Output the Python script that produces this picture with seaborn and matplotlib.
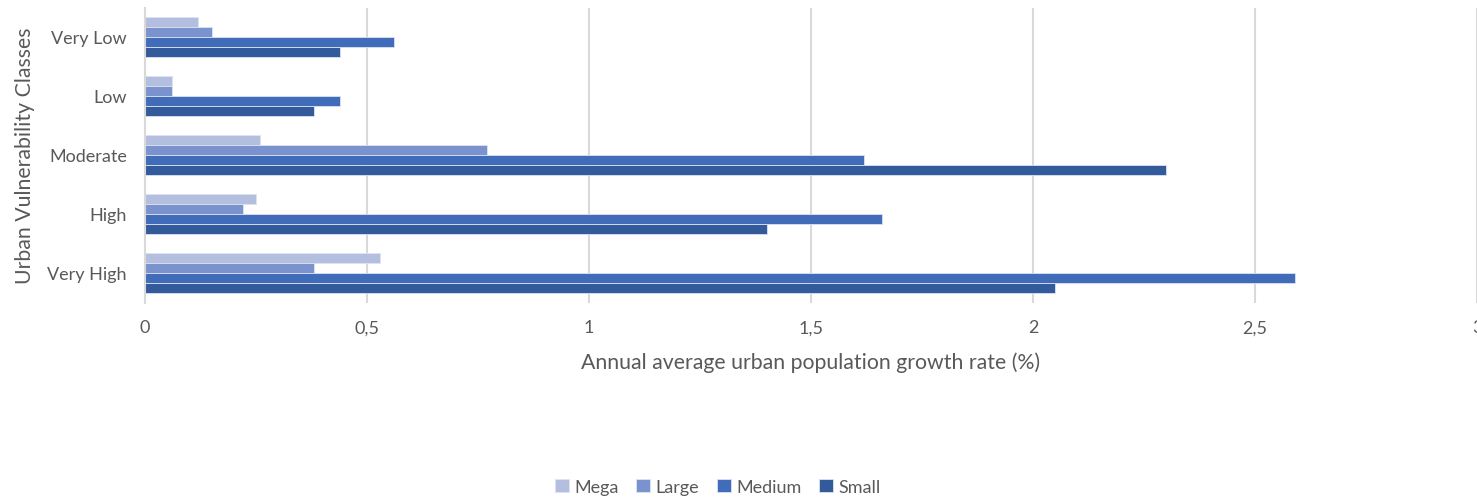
import matplotlib
matplotlib.use("Agg")
import matplotlib.pyplot as plt
from matplotlib.ticker import FuncFormatter, MultipleLocator
import seaborn as sns
import pandas as pd

categories = ["Very Low", "Low", "Moderate", "High", "Very High"]
series = ["Mega", "Large", "Medium", "Small"]
mega = [0.12, 0.06, 0.26, 0.25, 0.53]
large = [0.15, 0.06, 0.77, 0.22, 0.38]
medium = [0.56, 0.44, 1.62, 1.66, 2.59]
small = [0.44, 0.38, 2.30, 1.40, 2.05]
colors = ["#B4BEDF", "#7A93CE", "#406CB9", "#335B9B"]

rows = []
for s, vals in zip(series, [mega, large, medium, small]):
    for c, v in zip(categories, vals):
        rows.append({"cls": c, "size": s, "rate": v})
df = pd.DataFrame(rows)

sns.set_theme(style="white")
plt.rcParams["font.family"] = ["Lato", "DejaVu Sans"]
text_color = "#595959"

fig = plt.figure(figsize=(14.77, 5.02), dpi=100)
ax = fig.add_axes([145 / 1477, 1 - 303.5 / 502, 1332 / 1477, 295 / 502])

sns.barplot(data=df, y="cls", x="rate", hue="size", order=categories,
            hue_order=series, palette=colors, saturation=1, orient="h",
            width=0.68, gap=0, edgecolor="#DCE3F2", linewidth=0.6, ax=ax,
            legend=True)

ax.set_xlim(0, 3)
ax.xaxis.set_major_locator(MultipleLocator(0.5))
ax.xaxis.set_major_formatter(FuncFormatter(lambda v, p: f"{v:g}".replace(".", ",")))
ax.grid(axis="x", color="#D9D9D9", linewidth=1.5)
ax.grid(axis="y", visible=False)
ax.set_axisbelow(True)
for side in ["top", "right", "bottom"]:
    ax.spines[side].set_visible(False)
ax.spines["left"].set_color("#D9D9D9")
ax.spines["left"].set_linewidth(1.5)
ax.tick_params(axis="both", length=0, labelsize=13, colors=text_color)
ax.tick_params(axis="x", pad=12)
ax.tick_params(axis="y", pad=13)

ax.set_xlabel("Annual average urban population growth rate (%)", fontsize=15.3,
              color=text_color, labelpad=12)
ax.set_ylabel("Urban Vulnerability Classes", fontsize=15.3, color=text_color,
              labelpad=9)

handles, labels = ax.get_legend_handles_labels()
ax.get_legend().remove()
fig.legend(handles, labels, loc="center", bbox_to_anchor=(0.486, 0.028), ncol=4,
           frameon=False, fontsize=13, handlelength=0.75, handleheight=0.75,
           handletextpad=0.3, columnspacing=1.0, labelcolor=text_color)

fig.savefig("out.png", dpi=100)
